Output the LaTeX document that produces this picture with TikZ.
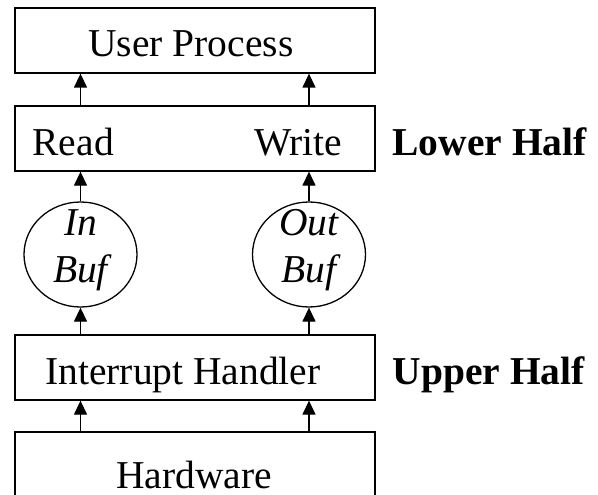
\documentclass[tikz,border=0pt]{standalone}
\usepackage{fontspec}
\setmainfont{Liberation Serif}
\usetikzlibrary{arrows.meta,shapes.geometric}

\begin{document}
\begin{tikzpicture}[x=1pt,y=-1pt,line width=1.3pt,
    box/.style={draw, minimum width=360pt, minimum height=65pt, inner sep=0pt},
    buf/.style={draw, ellipse, minimum width=113pt, minimum height=105pt, inner sep=0pt},
    lbl/.style={anchor=base, inner sep=0pt, font=\fontsize{39.5}{47}\selectfont},
    up/.style={-{Triangle[length=14pt,width=13pt]}}]
    \clip (0,0) rectangle (598,495);
    % draw boxes
    \node[box] (user) at (195,40.5) {};
    \node[box] (rw) at (195,138.5) {};
    \node[box] (ih) at (195,367.5) {};
    \node[box, minimum height=78pt] (hw) at (195,471) {};
    % draw buffers
    \node[buf] (inbuf) at (80.5,254.5) {};
    \node[buf] (outbuf) at (309,254.5) {};

    % texts
    \node[lbl] (userlbl) at (191,57) {User Process};
    \node[lbl, anchor=base west] (readlbl) at (32,155) {Read};
    \node[lbl, anchor=base east] (writelbl) at (343,155) {Write};
    \node[lbl] (ihlbl) at (183,384) {Interrupt Handler};
    \node[lbl] (hwlbl) at (194,488) {Hardware};
    \node[lbl, font=\fontsize{39.5}{47}\selectfont\itshape, align=center] (inlbl) at (80.5,282) {In\\Buf};
    \node[lbl, font=\fontsize{39.5}{47}\selectfont\itshape, align=center] (outlbl) at (309,282) {Out\\Buf};
    \node[lbl, anchor=base west, font=\fontsize{39.5}{47}\selectfont\bfseries] (lower) at (392,155) {Lower Half};
    \node[lbl, anchor=base west, font=\fontsize{39.5}{47}\selectfont\bfseries] (upper) at (392,384) {Upper Half};

    % arrows
    \draw[up] (hw.north -| inbuf.center) -- (ih.south -| inbuf.center);
    \draw[up] (hw.north -| outbuf.center) -- (ih.south -| outbuf.center);
    \draw[up] (ih.north -| inbuf.center) -- (inbuf.south);
    \draw[up] (ih.north -| outbuf.center) -- (outbuf.south);
    \draw[up] (inbuf.north) -- (rw.south -| inbuf.center);
    \draw[up] (outbuf.north) -- (rw.south -| outbuf.center);
    \draw[up] (rw.north -| inbuf.center) -- (user.south -| inbuf.center);
    \draw[up] (rw.north -| outbuf.center) -- (user.south -| outbuf.center);
\end{tikzpicture}
\end{document}
